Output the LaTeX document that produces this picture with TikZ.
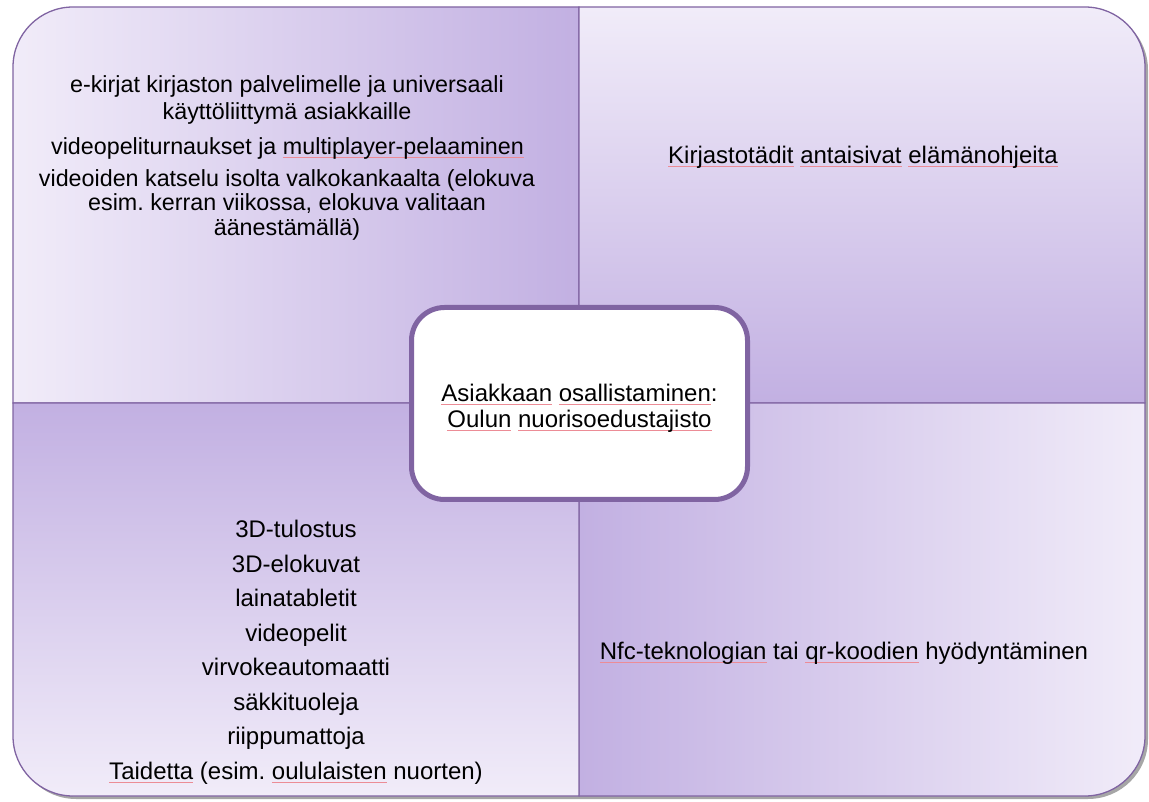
\documentclass[tikz,border=0pt]{standalone}
\usepackage{fontspec}
\setmainfont{Liberation Sans}
\frenchspacing
\definecolor{qborder}{HTML}{8064A2}
\definecolor{qdark}{RGB}{194,176,226}
\definecolor{qlight}{RGB}{241,236,249}
\definecolor{squig}{RGB}{236,140,150}
\newcommand\wavyu[1]{\setbox0\hbox{#1}\rlap{\textcolor{squig}{\rule[-3.5pt]{\wd0}{0.8pt}}}\box0\relax}
\tikzset{
  quad/.style={draw=qborder, line width=1.3pt},
  qtext/.style={align=center, font=\fontsize{24}{27}\selectfont, text=black, inner sep=0pt},
  listtext/.style={align=center, font=\fontsize{24}{34.5}\selectfont, text=black, inner sep=0pt},
  centerbox/.style={draw=qborder, line width=5pt, fill=white, rounded corners=33pt,
    minimum width=336pt, minimum height=192pt, inner sep=0pt},
}
\begin{document}
\begin{tikzpicture}[x=1pt,y=1pt]
\useasboundingbox (0,0) rectangle (1149,801);
% shadow
\fill[black, opacity=0.35] (16,395) -- (16,731) arc[start angle=180,end angle=90,radius=60] -- (1088,791)
  arc[start angle=90,end angle=0,radius=60] -- (1148,62) arc[start angle=0,end angle=-90,radius=60]
  -- (76,2) arc[start angle=270,end angle=180,radius=60] -- cycle;
% top-left
\path[quad, left color=qlight, right color=qdark]
  (13,398) -- (13,734) arc[start angle=180,end angle=90,radius=60] -- (579,794) -- (579,398) -- cycle;
% top-right
\path[quad, top color=qlight, bottom color=qdark]
  (579,794) -- (1085,794) arc[start angle=90,end angle=0,radius=60] -- (1145,398) -- (579,398) -- cycle;
% bottom-right
\path[quad, left color=qdark, right color=qlight]
  (1145,398) -- (1145,65) arc[start angle=0,end angle=-90,radius=60] -- (579,5) -- (579,398) -- cycle;
% bottom-left
\path[quad, top color=qdark, bottom color=qlight]
  (579,5) -- (73,5) arc[start angle=270,end angle=180,radius=60] -- (13,65) -- (13,398) -- (579,398) -- cycle;

% texts
\node[qtext, font=\fontsize{23.3}{27}\selectfont] (tl1) at (287,701) {e-kirjat kirjaston palvelimelle ja universaali\\käyttöliittymä asiakkaille};
\node[qtext, font=\fontsize{23.3}{27}\selectfont] (tl2) at (287.5,653) {videopeliturnaukset ja \wavyu{multiplayer-pelaaminen}};
\node[qtext, font=\fontsize{23.3}{24.5}\selectfont] (tl3) at (287,596.5) {videoiden katselu isolta valkokankaalta (elokuva\\esim. kerran viikossa, elokuva valitaan\\äänestämällä)};
\node[qtext] (tr) at (863,644) {\wavyu{Kirjastotädit} \wavyu{antaisivat} \wavyu{elämänohjeita}};
\node[listtext] (bl) at (296,148.5) {3D-tulostus\\3D-elokuvat\\lainatabletit\\videopelit\\virvokeautomaatti\\säkkituoleja\\riippumattoja\\\wavyu{Taidetta} (esim. \wavyu{oululaisten} nuorten)};
\node[qtext] (br) at (844,148) {\wavyu{Nfc-teknologian} tai \wavyu{qr-koodien} hyödyntäminen};

% center
\node[centerbox] (center) at (579.5,397.5) {};
\node[qtext, font=\fontsize{24}{26}\selectfont] (centertext) at ([yshift=-4.5pt]center.center)
  {\wavyu{Asiakkaan} \wavyu{osallistaminen}:\\\wavyu{Oulun} \wavyu{nuorisoedustajisto}};
\end{tikzpicture}
\end{document}
